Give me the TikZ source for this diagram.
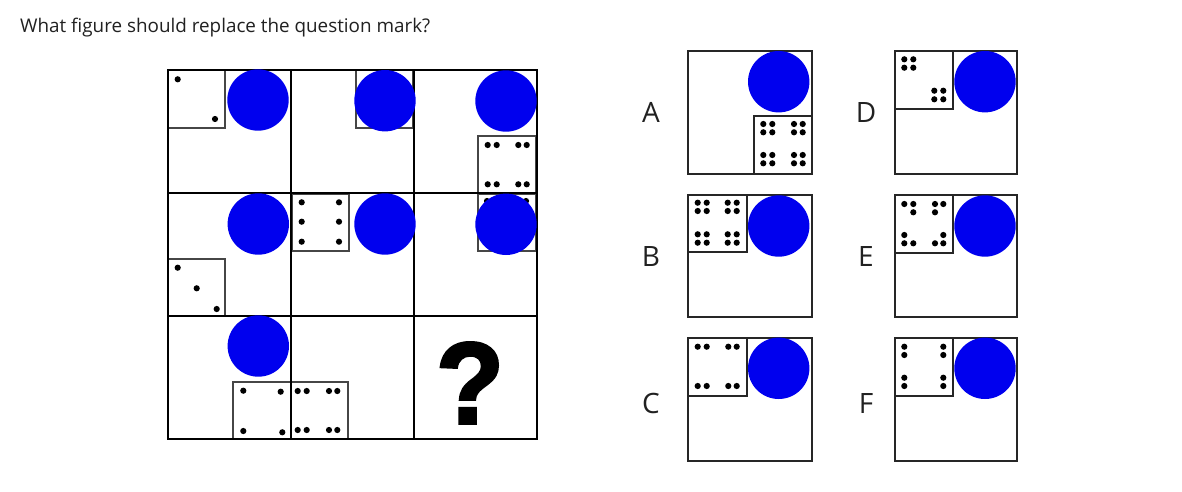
\documentclass[tikz,border=0pt]{standalone}
\usepackage{fontspec}
\setmainfont{Open Sans}
\newfontfamily\qfont[FakeBold=2.5]{Liberation Sans Bold}
\definecolor{ballblue}{RGB}{0,0,238}
\definecolor{txt}{RGB}{33,33,33}
\definecolor{sqgray}{RGB}{70,70,70}
\newcommand\dotat[2]{\fill[black] (#1,#2) circle (3.1pt);}
\newcommand\ballat[2]{\fill[ballblue] (#1,#2) circle (30.7pt);}
\begin{document}
\begin{tikzpicture}[x=1pt,y=-1pt,
  cellline/.style={draw=black,line width=1.7pt},
  minisq/.style={draw=sqgray,line width=1.6pt,fill=white},
  optbox/.style={draw=black!85,line width=1.7pt},
  optsq/.style={draw=black!85,line width=1.7pt,fill=white},
  optlabel/.style={font=\fontsize{28}{30}\selectfont,text=txt,anchor=base,inner sep=0pt}]
\useasboundingbox (0,0) rectangle (1182,492);
\fill[white] (0,0) rectangle (1182,492);

% title
\node[anchor=base west,inner sep=0pt,text=txt] (title) at (20,32.3)
  {\resizebox{410pt}{!}{What figure should replace the question mark?}};

% ---------- main grid: small squares and dots ----------
% row 1
\draw[minisq] (168,70) rectangle (225,128);
\dotat{177.7}{79.3}\dotat{215}{119}
\draw[minisq] (356,70) rectangle (413,128);
\draw[minisq] (478,136) rectangle (536,193);
\foreach \x in {487.7,496.7,518.3,526.7}{\foreach \y in {145,184.3}{\dotat{\x}{\y}}}
% row 2
\draw[minisq] (168,259) rectangle (225,316);
\dotat{177.7}{267.7}\dotat{196.7}{288.3}\dotat{216.7}{309}
\draw[minisq] (292,194) rectangle (349,251);
\foreach \x in {301.7,339}{\foreach \y in {202.3,221.7,241.7}{\dotat{\x}{\y}}}
\draw[minisq] (478,194) rectangle (536,251);
\dotat{487}{201}\dotat{526}{201}
% row 3
\draw[minisq] (233,382) rectangle (291,439);
\dotat{243.3}{390.7}\dotat{280.7}{391.7}\dotat{243.3}{431}\dotat{282.3}{432.3}
\draw[minisq] (291,382) rectangle (348,439);
\foreach \x in {297.7,306.7,329,337.3}{\foreach \y in {391,430}{\dotat{\x}{\y}}}

% grid lines
\draw[cellline] (168,70) rectangle (537,439);
\draw[cellline] (291,70) -- (291,439) (414,70) -- (414,439)
                (168,193) -- (537,193) (168,316) -- (537,316);

% circles
\ballat{258}{100}\ballat{385}{100.7}\ballat{506}{101}
\ballat{258.3}{224}\ballat{385}{224}\ballat{506}{224.3}
\ballat{258.3}{346}

% question mark
\node[inner sep=0pt] (qmark) at (470,383)
  {\resizebox{68pt}{81pt}{\qfont ?}};

% ---------- options ----------
% A
\draw[optbox] (688,51) rectangle (812,174);
\draw[optsq] (754,116) rectangle (812,174);
\foreach \x in {763.3,772.3,794,802.7}{\foreach \y in {124,132.3,155,163.3}{\dotat{\x}{\y}}}
\ballat{778.7}{81.7}
% B
\draw[optbox] (688,195) rectangle (812,317);
\draw[optsq] (688,195) rectangle (747,252);
\foreach \x in {697.7,706.7,727.7,736.7}{\foreach \y in {202.7,211,234.3,242.7}{\dotat{\x}{\y}}}
\ballat{778.7}{226}
% C
\draw[optbox] (688,337.7) rectangle (812,461);
\draw[optsq] (688,337.7) rectangle (747,395.7);
\foreach \x in {697.7,706.7,728.3,736.7}{\foreach \y in {346.7,386}{\dotat{\x}{\y}}}
\ballat{778.7}{368.3}
% D
\draw[optbox] (895,51) rectangle (1017,174);
\draw[optsq] (895,51) rectangle (953,109);
\foreach \x in {904.3,913.3}{\foreach \y in {59.3,67.7}{\dotat{\x}{\y}}}
\foreach \x in {934.3,943.3}{\foreach \y in {90.7,99.3}{\dotat{\x}{\y}}}
\ballat{985}{81.7}
% E
\draw[optbox] (895,195) rectangle (1017,317);
\draw[optsq] (895,195) rectangle (953,253);
\dotat{904.3}{204}\dotat{913.3}{204}\dotat{913.3}{212.3}
\dotat{935}{204}\dotat{943.3}{204}\dotat{935}{212.3}
\dotat{904.3}{235}\dotat{904.3}{243.3}\dotat{913.3}{243.3}
\dotat{943.3}{235}\dotat{935}{243.3}\dotat{943.3}{243.3}
\ballat{985}{226}
% F
\draw[optbox] (895,337.7) rectangle (1017,461);
\draw[optsq] (895,337.7) rectangle (953,395.7);
\foreach \x in {904.3,943.3}{\foreach \y in {346.7,355,377.7,386}{\dotat{\x}{\y}}}
\ballat{985}{368.3}

% labels
\node[optlabel] (labA) at (651,122.5) {A};
\node[optlabel] (labB) at (651,266) {B};
\node[optlabel] (labC) at (651,413) {C};
\node[optlabel] (labD) at (866,122.5) {D};
\node[optlabel] (labE) at (866,266) {E};
\node[optlabel] (labF) at (866,413) {F};
\end{tikzpicture}
\end{document}
